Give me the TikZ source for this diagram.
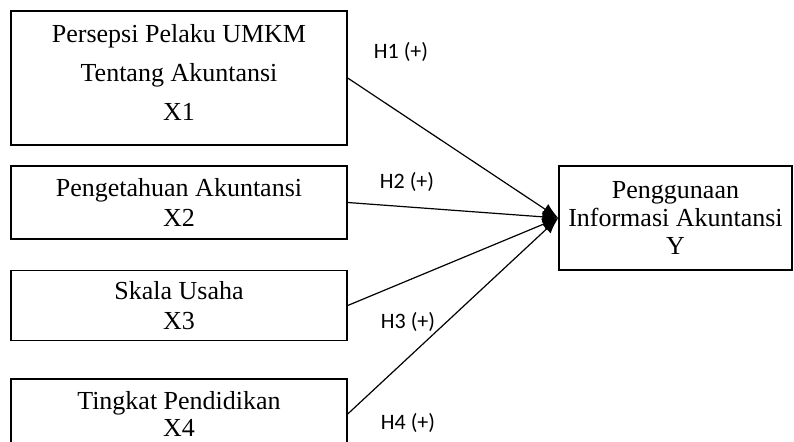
\documentclass[tikz,border=0pt]{standalone}
\usepackage{fontspec}
\setmainfont{Liberation Serif}
\newfontfamily\labelfont{Carlito}
\usetikzlibrary{arrows.meta}

\tikzset{
	varbox/.style = {draw, line width = 0.7pt, align = center, inner sep = 0pt,
		minimum width = 168pt, font = \fontsize{13}{15}\selectfont},
	hline/.style = {draw, line width = 0.6pt, -{Latex[length = 8pt, width = 6pt]}},
	hlabel/.style = {font = \labelfont\fontsize{11}{13}\selectfont}
}

\begin{document}
\begin{tikzpicture}[x = 0.5pt, y = -0.5pt]

	\clip (0, 0) rectangle (794, 441);

	% Independent variables
	
	\node [varbox, minimum height = 67pt, font = \fontsize{13}{19.5}\selectfont] (x1) at (179, 78) {Persepsi Pelaku UMKM\\Tentang Akuntansi\\X1\\[-13.5pt]};
	\node [varbox, minimum height = 36.5pt] (x2) at (179, 202.5) {Pengetahuan Akuntansi\\X2};
	\node [varbox, minimum height = 35pt] (x3) at (179, 305.5) {Skala Usaha\\X3};
	\node [varbox, minimum height = 35pt, font = \fontsize{13}{13.5}\selectfont] (x4) at (179, 414) {Tingkat Pendidikan\\X4};
	
	% Dependent variable
	
	\node [varbox, minimum width = 116.5pt, minimum height = 52pt, font = \fontsize{13}{14}\selectfont] (y) at (675.5, 218) {Penggunaan\\Informasi Akuntansi\\Y};
	
	% Hypotheses
	
	\draw [hline] (x1.east) -- (y.west);
	\draw [hline] (x2.east) -- (y.west);
	\draw [hline] (x3.east) -- (y.west);
	\draw [hline] (x4.east) -- (y.west);
	
	\node [hlabel] (h1) at (401, 52) {H1 (+)};
	\node [hlabel] (h2) at (407, 182) {H2 (+)};
	\node [hlabel] (h3) at (408, 322) {H3 (+)};
	\node [hlabel] (h4) at (408, 423) {H4 (+)};

\end{tikzpicture}
\end{document}
